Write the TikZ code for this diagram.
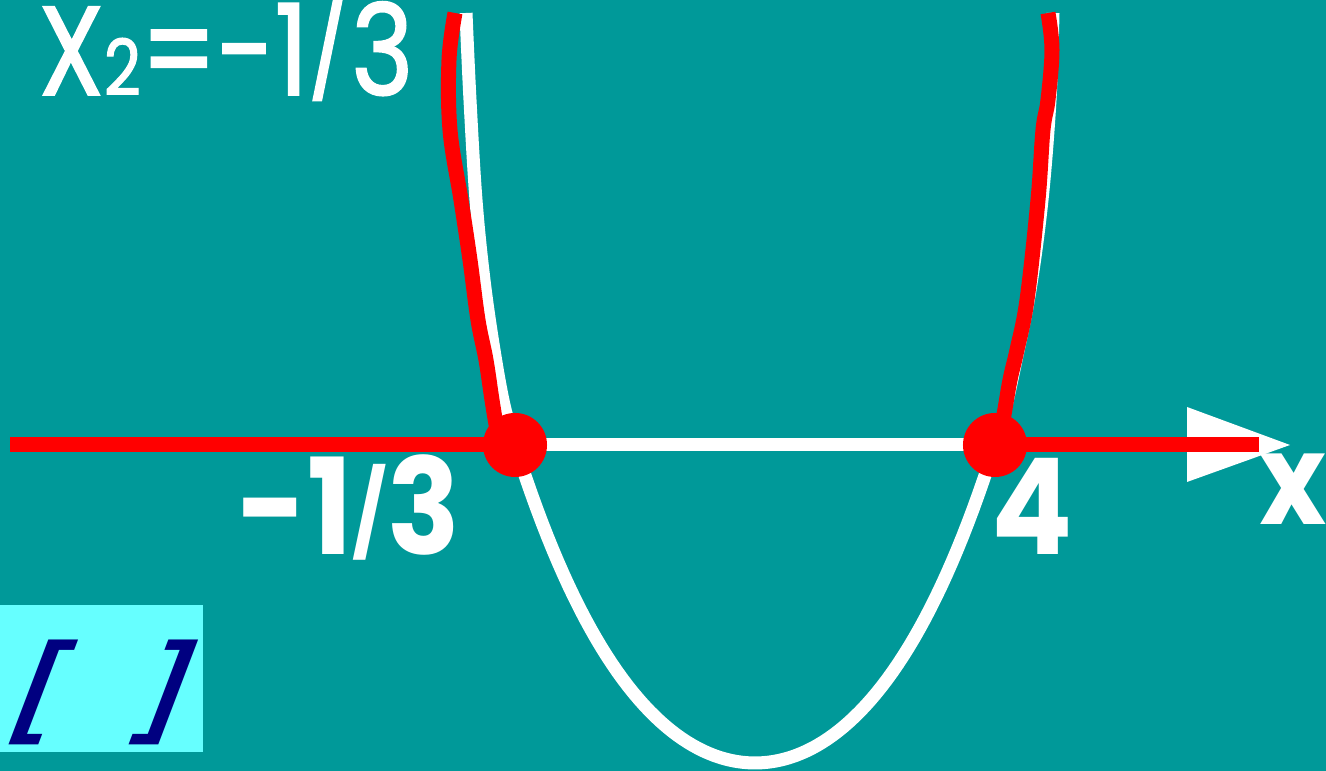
\documentclass[tikz,border=0pt]{standalone}
\usepackage{fontspec}
\usepackage{tikz}
\usetikzlibrary{arrows.meta,positioning,calc}
\newfontfamily\comic[FakeStretch=0.83,FakeBold=1.5]{Poppins}
\newfontfamily\comicb[FakeStretch=0.9]{Poppins}
\newfontfamily\brkfont[FakeSlant=0.38]{Liberation Sans}
\newcommand{\smslash}[2]{\raisebox{#2}{\fontsize{#1}{#1}\selectfont /}}
\definecolor{board}{RGB}{0,153,153}
\definecolor{lightbox}{RGB}{102,255,255}
\definecolor{ink}{RGB}{0,0,128}

\begin{document}
\begin{tikzpicture}[
  x=0.01cm, y=-0.01cm,
  curve/.style={white,line width=0.13cm},
  redline/.style={red,line width=0.15cm},
  dot/.style={circle,fill=red,inner sep=0pt,minimum size=0.64cm},
  lbl/.style={text=white,font=\comicb\bfseries\fontsize{38}{38}\selectfont,inner sep=0pt},
  brk/.style={text=ink,font=\brkfont\bfseries\fontsize{32}{32}\selectfont,inner sep=0pt},
]
  \fill[board] (0,0) rectangle (1326,771);
  \useasboundingbox (0,0) rectangle (1326,771);

  % axis
  \coordinate (ax0) at (10,445);
  \coordinate (axend) at (1259,445);
  \coordinate (tip) at (1290,445);
  \coordinate (r1) at (515,445);
  \coordinate (r2) at (995,445);
  \fill[white] (1187,407) -- (tip) -- (1187,482) -- cycle;

  % graph
  \draw[curve] plot[smooth,tension=0.6] coordinates {
    (466,13) (470,100) (476,200) (484,280) (494,350) (504,405) (515,445)}
    -- plot[domain=515:995,samples=90]
       (\x,{763-44.73*((\x-755)/100)^2-1.819*((\x-755)/100)^4})
    -- plot[smooth,tension=0.6] coordinates {
    (995,445) (1005,410) (1016,360) (1030,290) (1042,200) (1050,100) (1053,13)};
  \draw[curve] (r1) -- (r2);
  \draw[redline] (ax0) -- (r1);
  \draw[redline] (r2) -- (axend);
  \draw[redline] plot[smooth,tension=0.6] coordinates {
    (455,13) (449,60) (450,130) (461,200) (470,260) (478,320) (486,360)
    (492,400) (497,430) (500,445)};
  \draw[redline] plot[smooth,tension=0.6] coordinates {
    (997,445) (1003,420) (1010,380) (1017,350) (1027,300) (1038,200)
    (1043,130) (1048,100) (1052,50) (1048,13)};
  \node[dot] (d1) at (r1) {};
  \node[dot] (d2) at (r2) {};

  % labels
  \node[lbl,anchor=base] (lroot) at (349,555) {-1\smslash{24}{0.1cm}3};
  \node[lbl,anchor=base] (rroot) at (1032,555) {4};
  \node[lbl,anchor=base,font=\comicb\bfseries\fontsize{36}{36}\selectfont] (xname) at (1293,525) {x};
  \node[lbl,anchor=base west,font=\comic\fontsize{36}{36}\selectfont] (xtwo) at (38,95)
    {X{\fontsize{22}{22}\selectfont 2}=-1\smslash{31}{0.13cm}3};

  % answer box
  \fill[lightbox] (0,605) rectangle (203,752);
  \node[brk,anchor=base] (lbr) at (30,722) {[};
  \node[brk,anchor=base] (rbr) at (155,722) {]};
\end{tikzpicture}
\end{document}
